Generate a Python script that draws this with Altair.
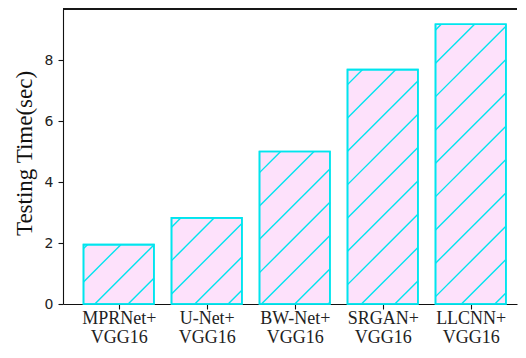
import altair as alt
import pandas as pd
import numpy as np

# ---- data ----
method_names = ["MPRNet+", "U-Net+", "BW-Net+", "SRGAN+", "LLCNN+"]
backbone = "VGG16"
times = [1.95, 2.83, 5.01, 7.70, 9.19]
y_ticks = [0, 2, 4, 6, 8]

# ---- layout (svg must stay within 510 x 338 so the page fits the window) ----
PAD_L, PAD_T, PAD_R, PAD_B = 55, 1, 1, 42
W, H = 454, 295
XMIN = -0.633
XMAX = XMIN + W / 88.0
YMAX = 9.69
BAR_HALF = 0.4

FILL = "#fde1fb"
EDGE = "#00e5ee"
SERIF = "Liberation Serif"

idx = list(range(len(method_names)))
bars = pd.DataFrame({
    "idx": idx,
    "name": method_names,
    "time": times,
    "left": [i - BAR_HALF for i in idx],
    "right": [i + BAR_HALF for i in idx],
})

# ---- hatch segments ('/' pattern, 45 deg in screen space), derived from the bars ----
ORX, ORY = 8 + PAD_L, 8 + PAD_T          # page position of plot origin
def X_page(x): return ORX + (x - XMIN) * W / (XMAX - XMIN)
def Y_page(y): return ORY + H * (1 - y / YMAX)
def x_data(X): return XMIN + (X - ORX) * (XMAX - XMIN) / W
def y_data(Y): return YMAX * (1 - (Y - ORY) / H)

SPACING = 100 / 3.0
PHASE = -1.2
segs = []
for i, v in zip(idx, times):
    XL, XR = X_page(i - BAR_HALF), X_page(i + BAR_HALF)
    YT, YB = Y_page(v), Y_page(0)
    kmin = int(np.floor((XL + YT - PHASE) / SPACING)) - 1
    kmax = int(np.ceil((XR + YB - PHASE) / SPACING)) + 1
    for k in range(kmin, kmax + 1):
        c = PHASE + k * SPACING
        X1 = max(XL, c - YB)
        X2 = min(XR, c - YT)
        if X2 - X1 > 0.5:
            segs.append({"x": x_data(X1), "y": y_data(c - X1),
                         "x2": x_data(X2), "y2": y_data(c - X2)})
hatch = pd.DataFrame(segs)

label_arr = "[" + ",".join(f"['{m}','{backbone}']" for m in method_names) + "]"

xscale = alt.Scale(domain=[XMIN, XMAX], nice=False, zero=False)
yscale = alt.Scale(domain=[0, YMAX], nice=False, zero=False)

base_x = alt.X("left:Q", scale=xscale, axis=alt.Axis(
    values=idx, title=None, labelExpr=f"{label_arr}[datum.value]",
    labelFont=SERIF, labelFontSize=18, labelLineHeight=19, labelColor="#222",
    labelPadding=0.5, tickSize=5, labelBaseline="top", labelFlush=False,
    labelOverlap=False, grid=False, domainColor="#111", tickColor="#111",
    domainWidth=1.1, tickWidth=1.1))
base_y = alt.Y("time:Q", scale=yscale, axis=alt.Axis(
    values=y_ticks, title="Testing Time(sec)", titleFont=SERIF, titleFontSize=23,
    titleFontWeight="normal", titleColor="#111", titleAngle=270,
    titleX=-32, titleY=144, titleAlign="center", titleBaseline="alphabetic",
    labelFont="DejaVu Sans", labelFontSize=14, labelColor="#222",
    labelPadding=5, tickSize=5, grid=False, domainColor="#111",
    tickColor="#111", domainWidth=1.1, tickWidth=1.1))

bar_layer = alt.Chart(bars).mark_bar(fill=FILL, stroke=EDGE, strokeWidth=1.6).encode(
    x=base_x, x2="right:Q", y=base_y, y2=alt.datum(0))

hatch_layer = alt.Chart(hatch).mark_rule(color=EDGE, strokeWidth=1.4).encode(
    x=alt.X("x:Q", scale=xscale), x2="x2:Q",
    y=alt.Y("y:Q", scale=yscale), y2="y2:Q")

outline_layer = alt.Chart(bars).mark_bar(fillOpacity=0, stroke=EDGE, strokeWidth=1.6).encode(
    x=alt.X("left:Q", scale=xscale), x2="right:Q",
    y=alt.Y("time:Q", scale=yscale), y2=alt.datum(0))

top_spine = alt.Chart(bars).mark_rule(color="#111", strokeWidth=1.1).encode(
    x=alt.value(0), x2=alt.value(W), y=alt.value(0))

chart = alt.layer(bar_layer, hatch_layer, outline_layer, top_spine).properties(
    width=W, height=H, autosize="none",
    padding={"left": PAD_L, "top": PAD_T, "right": PAD_R, "bottom": PAD_B},
    background="white",
).configure_view(stroke=None)

chart.save("out.html", embed_options={"renderer": "svg", "actions": False})
